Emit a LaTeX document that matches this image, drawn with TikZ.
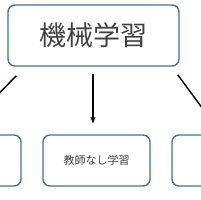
\documentclass[tikz,border=0pt]{standalone}
\usepackage{fontspec}
\newfontfamily\jpfont{Noto Sans CJK JP}
\usetikzlibrary{arrows.meta}
\definecolor{boxblue}{RGB}{65,113,156}
\definecolor{txtgray}{RGB}{64,64,64}
\begin{document}
\begin{tikzpicture}[
	x=1pt, y=-1pt,
	box/.style={ draw=boxblue, line width=1.4pt, rounded corners=7pt, fill=white, inner sep=0pt, text=txtgray, font=\jpfont },
	conn/.style={ line width=1.4pt, shorten >=10pt, -{Latex[length=7pt,width=5.5pt]} }
]
\useasboundingbox (0,0) rectangle (200,200);

\node at (93.5,35.5) (ml) [box, minimum width=171pt, minimum height=61pt, font=\jpfont\fontsize{27}{27}\selectfont] {機械学習\hspace{9pt}};
\node at (-32.5,160.5) (sup) [box, minimum width=107pt, minimum height=51pt] {};
\node at (96.5,160.5) (uns) [box, minimum width=107pt, minimum height=51pt, font=\jpfont\fontsize{11}{11}\selectfont] {教師なし学習};
\node at (225.5,160.5) (rl) [box, minimum width=107pt, minimum height=51pt] {};

\coordinate (l0) at ([shift={(9,9)}]ml.south west);
\coordinate (m0) at (93,74);
\coordinate (r0) at ([shift={(-2,8)}]ml.south east);
\draw[conn] (l0) -- ([xshift=-8pt]sup.north);
\draw[conn] (m0) -- (m0 |- uns.north);
\draw[conn] (r0) -- ([xshift=-4pt]rl.north);

\end{tikzpicture}
\end{document}
